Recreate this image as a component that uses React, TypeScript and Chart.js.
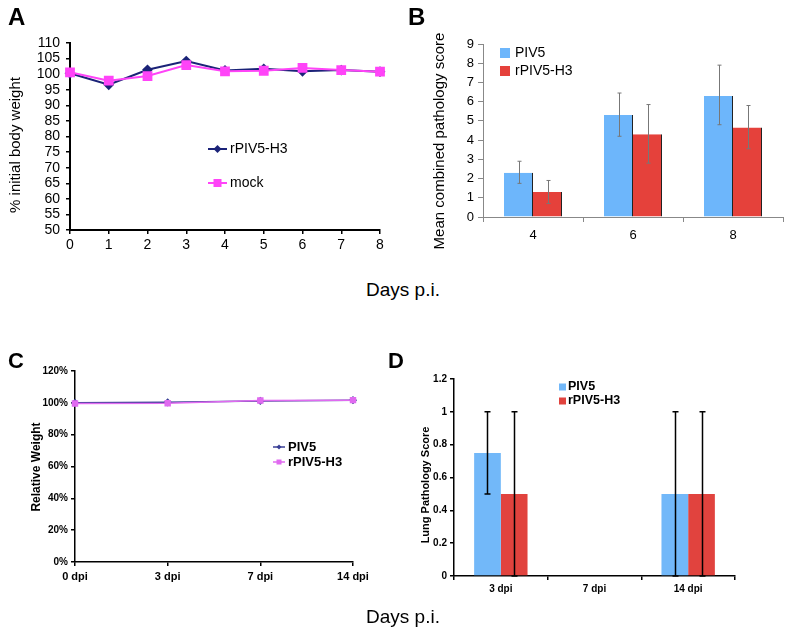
import React, { useEffect, useRef } from 'react';
import { Chart, registerables } from 'chart.js';
Chart.register(...registerables);

const FONT = '"Liberation Sans", Arial, Helvetica, sans-serif';
Chart.defaults.font.family = FONT;
Chart.defaults.color = '#000';

// ---- Panel A data ----
const daysA = ['0', '1', '2', '3', '4', '5', '6', '7', '8'];
const weightA_rPIV5H3 = [100.3, 96.6, 101.4, 104.2, 101.2, 101.7, 100.9, 101.3, 100.8];
const weightA_mock = [100.6, 97.9, 99.4, 102.9, 100.9, 101.1, 102.0, 101.3, 100.8];

// ---- Panel B data ----
const daysB = ['4', '6', '8'];
const scoreB_PIV5 = [2.3, 5.3, 6.3];
const scoreB_rPIV5H3 = [1.3, 4.3, 4.65];
const errLoB_PIV5 = [1.75, 4.2, 4.8];
const errHiB_PIV5 = [2.9, 6.45, 7.9];
const errLoB_rPIV5H3 = [0.7, 2.8, 3.55];
const errHiB_rPIV5H3 = [1.9, 5.85, 5.8];

// ---- Panel C data ----
const daysC = ['0 dpi', '3 dpi', '7 dpi', '14 dpi'];
const weightC_PIV5 = [100, 100.3, 101.2, 101.7];
const weightC_rPIV5H3 = [99.6, 99.8, 101.5, 101.7];

// ---- Panel D data ----
const daysD = ['3 dpi', '7 dpi', '14 dpi'];
const scoreD_PIV5 = [0.75, 0, 0.5];
const scoreD_rPIV5H3 = [0.5, 0, 0.5];
const errLoD_PIV5 = [0.5, null, 0];
const errHiD_PIV5 = [1, null, 1];
const errLoD_rPIV5H3 = [0, null, 0];
const errHiD_rPIV5H3 = [1, null, 1];

// ---- plugins ----
const vTitle = {
  id: 'vTitle',
  afterDraw(chart: any, _a: any, o: any) {
    if (!o || !o.text) return;
    const ctx = chart.ctx;
    ctx.save();
    ctx.translate(o.x, o.y);
    ctx.rotate(-Math.PI / 2);
    ctx.font = o.font;
    ctx.fillStyle = '#000';
    ctx.textAlign = 'center';
    ctx.textBaseline = 'middle';
    ctx.fillText(o.text, 0, 0);
    ctx.restore();
  },
};

const customLegend = {
  id: 'customLegend',
  afterDraw(chart: any, _a: any, o: any) {
    if (!o || !o.items) return;
    const ctx = chart.ctx;
    const items = o.items;
    for (let k = 0; k < items.length; k++) {
      const it = items[k];
      const ds = chart.data.datasets[it.index];
      ctx.save();
      let tx = it.x;
      if (o.kind === 'line') {
        ctx.strokeStyle = ds.borderColor;
        ctx.lineWidth = o.lineWidth;
        ctx.beginPath();
        ctx.moveTo(it.x, it.y);
        ctx.lineTo(it.x + o.len, it.y);
        ctx.stroke();
        const cx = it.x + o.len / 2;
        const s = o.marker;
        ctx.fillStyle = ds.pointBackgroundColor;
        if (ds.pointStyle === 'rect') {
          ctx.fillRect(cx - s / 2, it.y - s / 2, s, s);
        } else {
          ctx.beginPath();
          ctx.moveTo(cx, it.y - s / 2);
          ctx.lineTo(cx + s / 2, it.y);
          ctx.lineTo(cx, it.y + s / 2);
          ctx.lineTo(cx - s / 2, it.y);
          ctx.closePath();
          ctx.fill();
        }
        tx = it.x + o.len + o.gap;
      } else {
        ctx.fillStyle = ds.backgroundColor;
        ctx.fillRect(it.x, it.y - o.box / 2, o.box, o.box);
        tx = it.x + o.box + o.gap;
      }
      ctx.fillStyle = '#000';
      ctx.font = o.font;
      ctx.textAlign = 'left';
      ctx.textBaseline = 'middle';
      ctx.fillText(ds.label, tx, it.y);
      ctx.restore();
    }
  },
};

const errorBars = {
  id: 'errorBars',
  afterDatasetsDraw(chart: any, _a: any, o: any) {
    const ctx = chart.ctx;
    const y = chart.scales.y;
    chart.data.datasets.forEach((ds: any, di: number) => {
      if (!ds.errLo) return;
      const meta = chart.getDatasetMeta(di);
      meta.data.forEach((bar: any, i: number) => {
        const lo = ds.errLo[i];
        const hi = ds.errHi[i];
        if (lo == null || hi == null) return;
        const x = Math.round(bar.x) + 0.5;
        const y1 = y.getPixelForValue(lo);
        const y2 = y.getPixelForValue(hi);
        ctx.save();
        ctx.strokeStyle = o.color;
        ctx.lineWidth = o.width;
        ctx.beginPath();
        ctx.moveTo(x, y1);
        ctx.lineTo(x, y2);
        ctx.moveTo(x - o.cap, y1);
        ctx.lineTo(x + o.cap, y1);
        ctx.moveTo(x - o.cap, y2);
        ctx.lineTo(x + o.cap, y2);
        ctx.stroke();
        ctx.restore();
      });
    });
  },
};

const noPlugins = { legend: { display: false }, tooltip: { enabled: false } };

// ---- configs ----
function configA(): any {
  return {
    type: 'line',
    data: {
      labels: daysA,
      datasets: [
        {
          label: 'rPIV5-H3', data: weightA_rPIV5H3, borderColor: '#1B2378', backgroundColor: '#1B2378',
          pointBackgroundColor: '#1B2378', pointBorderColor: '#1B2378', pointStyle: 'rectRot', pointRadius: 4,
          borderWidth: 2, order: 1, tension: 0,
        },
        {
          label: 'mock', data: weightA_mock, borderColor: '#FF44F8', backgroundColor: '#FF44F8',
          pointBackgroundColor: '#FF44F8', pointBorderColor: '#FF44F8', pointStyle: 'rect', pointRadius: 5.5,
          borderWidth: 2, order: 0, tension: 0,
        },
      ],
    },
    options: {
      animation: false, responsive: false,
      layout: { padding: { top: 43, right: 20, left: 0, bottom: 0 } },
      plugins: {
        ...noPlugins,
        vTitle: { text: '% initial body weight', x: 16, y: 145, font: '15px ' + FONT },
        customLegend: {
          kind: 'line', len: 19, gap: 3, lineWidth: 2, marker: 8, font: '14px ' + FONT,
          items: [{ index: 0, x: 208, y: 149 }, { index: 1, x: 208, y: 183 }],
        },
      },
      scales: {
        x: {
          type: 'category', offset: false,
          grid: { drawOnChartArea: false, drawTicks: true, tickLength: 4, color: '#000', lineWidth: 1.5 },
          border: { display: true, color: '#000', width: 2 },
          ticks: { color: '#000', font: { size: 14 }, padding: 3, maxRotation: 0, autoSkip: false },
          afterFit(s: any) { s.height = 30; },
        },
        y: {
          min: 50, max: 110,
          grid: { drawOnChartArea: false, drawTicks: true, tickLength: 4, color: '#000', lineWidth: 1.5 },
          border: { display: true, color: '#000', width: 2 },
          ticks: { stepSize: 5, color: '#000', font: { size: 14 }, padding: 6, autoSkip: false },
          afterFit(s: any) { s.width = 70; },
        },
      },
    },
    plugins: [vTitle, customLegend],
  };
}

function configB(): any {
  return {
    type: 'bar',
    data: {
      labels: daysB,
      datasets: [
        {
          label: 'PIV5', data: scoreB_PIV5, backgroundColor: '#6DB6FB', borderColor: '#222',
          borderWidth: { top: 0, right: 1, bottom: 0, left: 0 }, categoryPercentage: 0.58, barPercentage: 1,
          errLo: errLoB_PIV5, errHi: errHiB_PIV5,
        },
        {
          label: 'rPIV5-H3', data: scoreB_rPIV5H3, backgroundColor: '#E5413B', borderColor: '#222',
          borderWidth: { top: 0, right: 1, bottom: 0, left: 0 }, categoryPercentage: 0.58, barPercentage: 1,
          errLo: errLoB_rPIV5H3, errHi: errHiB_rPIV5H3,
        },
      ],
    },
    options: {
      animation: false, responsive: false,
      layout: { padding: { top: 44, right: 10, left: 0, bottom: 0 } },
      plugins: {
        ...noPlugins,
        vTitle: { text: 'Mean combined pathology score', x: 40, y: 141, font: '15px ' + FONT },
        customLegend: {
          kind: 'box', box: 10, gap: 5, font: '14px ' + FONT,
          items: [{ index: 0, x: 100, y: 53 }, { index: 1, x: 100, y: 71 }],
        },
        errorBars: { color: '#777', width: 1, cap: 2 },
      },
      scales: {
        x: {
          offset: true,
          grid: { offset: true, drawOnChartArea: false, drawTicks: true, tickLength: 5, color: '#888', lineWidth: 1 },
          border: { display: true, color: '#888', width: 1 },
          ticks: { color: '#000', font: { size: 13 }, padding: 6, maxRotation: 0 },
          afterFit(s: any) { s.height = 43; },
        },
        y: {
          min: 0, max: 9,
          grid: { drawOnChartArea: false, drawTicks: true, tickLength: 5, color: '#888', lineWidth: 1 },
          border: { display: true, color: '#888', width: 1 },
          ticks: { stepSize: 1, color: '#000', font: { size: 13 }, padding: 4, autoSkip: false },
          afterFit(s: any) { s.width = 83; },
        },
      },
    },
    plugins: [vTitle, customLegend, errorBars],
  };
}

function configC(): any {
  return {
    type: 'line',
    data: {
      labels: daysC,
      datasets: [
        {
          label: 'PIV5', data: weightC_PIV5, borderColor: '#3A3F96', backgroundColor: '#3A3F96',
          pointBackgroundColor: '#3A3F96', pointBorderColor: '#3A3F96', pointStyle: 'rectRot', pointRadius: 3,
          borderWidth: 1.5, order: 1, tension: 0,
        },
        {
          label: 'rPIV5-H3', data: weightC_rPIV5H3, borderColor: '#E06AF0', backgroundColor: '#E06AF0',
          pointBackgroundColor: '#E06AF0', pointBorderColor: '#E06AF0', pointStyle: 'rect', pointRadius: 3.5,
          borderWidth: 1.5, order: 0, tension: 0,
        },
      ],
    },
    options: {
      animation: false, responsive: false,
      layout: { padding: { top: 41, right: 47, left: 0, bottom: 0 } },
      plugins: {
        ...noPlugins,
        vTitle: { text: 'Relative Weight', x: 37, y: 137, font: 'bold 12px ' + FONT },
        customLegend: {
          kind: 'line', len: 12, gap: 3, lineWidth: 1.5, marker: 5, font: 'bold 13px ' + FONT,
          items: [{ index: 0, x: 273, y: 117 }, { index: 1, x: 273, y: 132 }],
        },
      },
      scales: {
        x: {
          type: 'category', offset: false,
          grid: { drawOnChartArea: false, drawTicks: true, tickLength: 4, color: '#000', lineWidth: 1.5 },
          border: { display: true, color: '#000', width: 1.5 },
          ticks: { color: '#000', font: { size: 11, weight: 'bold' }, padding: 4, maxRotation: 0, autoSkip: false },
          afterFit(s: any) { s.height = 73; },
        },
        y: {
          min: 0, max: 120,
          grid: { drawOnChartArea: false, drawTicks: true, tickLength: 4, color: '#000', lineWidth: 1.5 },
          border: { display: true, color: '#000', width: 1.5 },
          ticks: {
            stepSize: 20, color: '#000', font: { size: 10, weight: 'bold' }, padding: 3, autoSkip: false,
            callback: (v: any) => v + '%',
          },
          afterFit(s: any) { s.width = 75; },
        },
      },
    },
    plugins: [vTitle, customLegend],
  };
}

function configD(): any {
  return {
    type: 'bar',
    data: {
      labels: daysD,
      datasets: [
        {
          label: 'PIV5', data: scoreD_PIV5, backgroundColor: '#72B8F9', borderWidth: 0,
          categoryPercentage: 0.57, barPercentage: 1, errLo: errLoD_PIV5, errHi: errHiD_PIV5,
        },
        {
          label: 'rPIV5-H3', data: scoreD_rPIV5H3, backgroundColor: '#E1433E', borderWidth: 0,
          categoryPercentage: 0.57, barPercentage: 1, errLo: errLoD_rPIV5H3, errHi: errHiD_rPIV5H3,
        },
      ],
    },
    options: {
      animation: false, responsive: false,
      layout: { padding: { top: 49, right: 58, left: 0, bottom: 0 } },
      plugins: {
        ...noPlugins,
        vTitle: { text: 'Lung Pathology Score', x: 26, y: 155, font: 'bold 11px ' + FONT },
        customLegend: {
          kind: 'box', box: 7, gap: 2, font: 'bold 12.5px ' + FONT,
          items: [{ index: 0, x: 159, y: 57 }, { index: 1, x: 159, y: 71 }],
        },
        errorBars: { color: '#000', width: 1.5, cap: 3 },
      },
      scales: {
        x: {
          offset: true,
          grid: { offset: true, drawOnChartArea: false, drawTicks: true, tickLength: 4, color: '#000', lineWidth: 1.5 },
          border: { display: true, color: '#000', width: 1.5 },
          ticks: { color: '#000', font: { size: 10, weight: 'bold' }, padding: 3, maxRotation: 0 },
          afterFit(s: any) { s.height = 59; },
        },
        y: {
          min: 0, max: 1.2,
          grid: { drawOnChartArea: false, drawTicks: true, tickLength: 4, color: '#000', lineWidth: 1.5 },
          border: { display: true, color: '#000', width: 1.5 },
          ticks: {
            stepSize: 0.2, color: '#000', font: { size: 10, weight: 'bold' }, padding: 3, autoSkip: false,
            callback: (v: any) => String(Math.round(v * 10) / 10),
          },
          afterFit(s: any) { s.width = 54; },
        },
      },
    },
    plugins: [vTitle, customLegend, errorBars],
  };
}

function ChartBox(props: { left: number; top: number; width: number; height: number; make: () => any }) {
  const ref = useRef<HTMLCanvasElement | null>(null);
  useEffect(() => {
    const c = new Chart(ref.current as HTMLCanvasElement, props.make());
    return () => c.destroy();
  }, []);
  return (
    <canvas
      ref={ref}
      width={props.width}
      height={props.height}
      style={{ position: 'absolute', left: props.left, top: props.top, width: props.width, height: props.height }}
    />
  );
}

const letterStyle = (left: number, top: number, size: number): React.CSSProperties => ({
  position: 'absolute', left, top, fontFamily: FONT, fontWeight: 'bold', fontSize: size, lineHeight: 1, color: '#000',
});

const daysStyle = (top: number): React.CSSProperties => ({
  position: 'absolute', left: 303, width: 200, top, textAlign: 'center', fontFamily: FONT, fontSize: 19, lineHeight: 1, color: '#000',
});

export default function App() {
  return (
    <div style={{ position: 'absolute', left: 0, top: 0, width: 793, height: 635, background: '#fff', overflow: 'hidden' }}>
      <ChartBox left={0} top={0} width={400} height={260} make={configA} />
      <ChartBox left={400} top={0} width={393} height={260} make={configB} />
      <ChartBox left={0} top={330} width={400} height={305} make={configC} />
      <ChartBox left={400} top={330} width={393} height={305} make={configD} />
      <div style={letterStyle(8, 5, 24)}>A</div>
      <div style={letterStyle(408, 5, 24)}>B</div>
      <div style={letterStyle(8, 350, 22)}>C</div>
      <div style={letterStyle(388, 350, 22)}>D</div>
      <div style={daysStyle(280)}>Days p.i.</div>
      <div style={daysStyle(607)}>Days p.i.</div>
    </div>
  );
}
